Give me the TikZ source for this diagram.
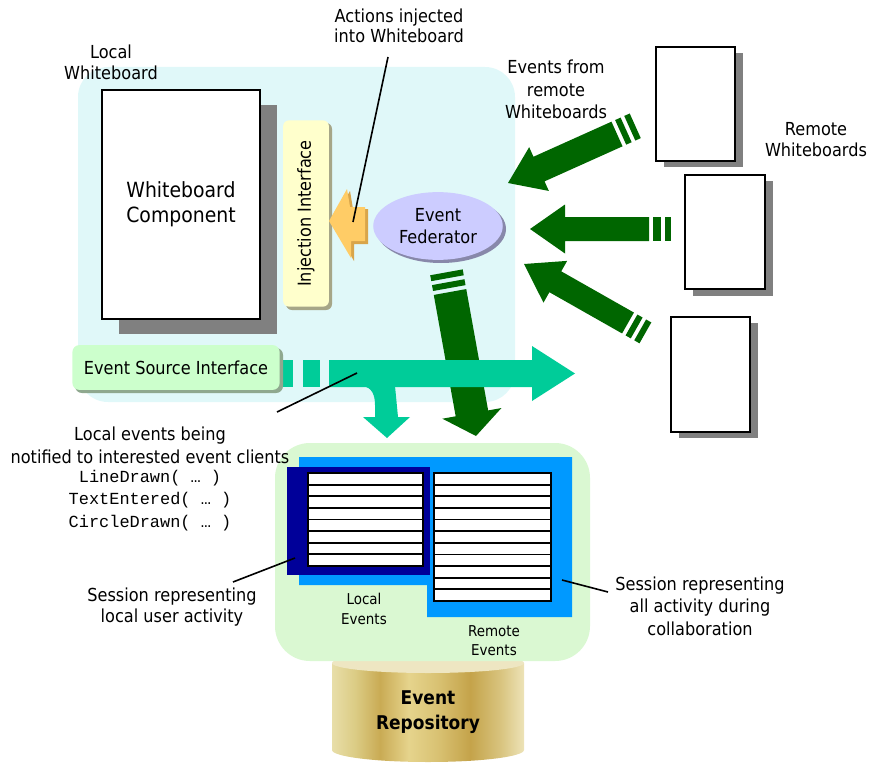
\documentclass[tikz,border=0pt]{standalone}
\usepackage{fontspec}
\setmainfont{DejaVu Sans}[FakeStretch=0.9]
\newfontfamily\codefont{Liberation Mono}
\usetikzlibrary{shapes.geometric}

\definecolor{localbg}{HTML}{E0F8F9}
\definecolor{sessbg}{HTML}{DAF8D2}
\definecolor{evteal}{HTML}{00CC99}
\definecolor{evgreen}{HTML}{006600}
\definecolor{sessblue}{HTML}{0099FF}
\definecolor{sessnavy}{HTML}{000099}
\definecolor{fedfill}{HTML}{CCCCFF}
\definecolor{fedshade}{HTML}{8888AA}
\definecolor{injfill}{HTML}{FFFFCC}
\definecolor{injshade}{HTML}{A6A688}
\definecolor{srcfill}{HTML}{CCFFCC}
\definecolor{srcshade}{HTML}{8FA88F}
\definecolor{boxshade}{HTML}{808080}
\definecolor{arrorange}{HTML}{FFCC66}
\definecolor{arrorangedk}{HTML}{D9A54A}
\definecolor{repotop}{HTML}{EEE6C2}

% gold banding of the repository drum (path box maps to 25bp..75bp)
\pgfdeclarehorizontalshading{repobody}{100bp}{%
  rgb(0bp)=(0.91,0.87,0.66);
  rgb(25bp)=(0.91,0.87,0.66);
  rgb(31bp)=(0.86,0.80,0.52);
  rgb(37.5bp)=(0.79,0.67,0.33);
  rgb(45bp)=(0.90,0.83,0.55);
  rgb(52.5bp)=(0.85,0.76,0.45);
  rgb(61bp)=(0.77,0.64,0.29);
  rgb(69bp)=(0.85,0.77,0.50);
  rgb(75bp)=(0.93,0.89,0.72);
  rgb(100bp)=(0.93,0.89,0.72)}

% block arrow: tail centre (#1,#2), tip (#3,#4), shaft width #5,
% head width #6, head length #7, fill #8
\newcommand{\blockarrow}[8]{%
  \pgfmathsetmacro{\baUx}{(#3-(#1))/veclen(#3-(#1),#4-(#2))}%
  \pgfmathsetmacro{\baUy}{(#4-(#2))/veclen(#3-(#1),#4-(#2))}%
  \pgfmathsetmacro{\baBx}{#3-#7*(\baUx)}%
  \pgfmathsetmacro{\baBy}{#4-#7*(\baUy)}%
  \pgfmathsetmacro{\baS}{#5/2}%
  \pgfmathsetmacro{\baH}{#6/2}%
  \fill[#8] ({#1-\baS*(\baUy)},{#2+\baS*(\baUx)})
    -- ({\baBx-\baS*(\baUy)},{\baBy+\baS*(\baUx)})
    -- ({\baBx-\baH*(\baUy)},{\baBy+\baH*(\baUx)})
    -- (#3,#4)
    -- ({\baBx+\baH*(\baUy)},{\baBy-\baH*(\baUx)})
    -- ({\baBx+\baS*(\baUy)},{\baBy-\baS*(\baUx)})
    -- ({#1+\baS*(\baUy)},{#2-\baS*(\baUx)}) -- cycle;}

% stripe behind the tail of the same arrow, from distance #5 to #6, width #7
\newcommand{\arrowstripe}[8]{%
  \pgfmathsetmacro{\baUx}{(#3-(#1))/veclen(#3-(#1),#4-(#2))}%
  \pgfmathsetmacro{\baUy}{(#4-(#2))/veclen(#3-(#1),#4-(#2))}%
  \pgfmathsetmacro{\baAx}{#1-#5*(\baUx)}%
  \pgfmathsetmacro{\baAy}{#2-#5*(\baUy)}%
  \pgfmathsetmacro{\baCx}{#1-#6*(\baUx)}%
  \pgfmathsetmacro{\baCy}{#2-#6*(\baUy)}%
  \pgfmathsetmacro{\baS}{#7/2}%
  \fill[#8] ({\baAx-\baS*(\baUy)},{\baAy+\baS*(\baUx)})
    -- ({\baCx-\baS*(\baUy)},{\baCy+\baS*(\baUx)})
    -- ({\baCx+\baS*(\baUy)},{\baCy-\baS*(\baUx)})
    -- ({\baAx+\baS*(\baUy)},{\baAy-\baS*(\baUx)}) -- cycle;}

\begin{document}
\begin{tikzpicture}[x=1bp,y=-1bp,
  txt/.style={align=center,inner sep=0pt,font=\fontsize{18}{22}\selectfont},
  callout/.style={line width=1.6bp,black},
  paper/.style={draw=black,line width=2bp,fill=white,inner sep=0pt},
  tab/.style={draw=black,line width=2bp,fill=white,inner sep=0pt},
  rowline/.style={line width=1.8bp,black}]
\useasboundingbox (0,0) rectangle (871,763);

% local whiteboard area
\fill[localbg,rounded corners=30] (78,67) rectangle (515,402);
\node[txt,font=\fontsize{18}{21}\selectfont] (lwb) at (111,62.5) {Local\\Whiteboard};

% event repository drum
\shade[shading=repobody] (332,663) -- (332,750)
  arc[start angle=180,end angle=0,x radius=96,y radius=12] -- (524,663) -- cycle;
\fill[repotop] (428,663) ellipse[x radius=96,y radius=10];
\node[txt,font=\bfseries\fontsize{19}{25}\selectfont] (repo) at (428,712.5) {Event\\Repository};

% session area
\fill[sessbg,rounded corners=35] (275,443) rectangle (590,661);

% whiteboard component
\fill[boxshade] (119,105) rectangle (277,334);
\node[paper,minimum width=158,minimum height=229,align=center,
  font=\fontsize{21}{25}\selectfont] (wbc) at (181,204.5) {Whiteboard\\Component};

% injection interface
\fill[injshade,rounded corners=6] (286,123) rectangle (332,310);
\node[fill=injfill,rounded corners=6,minimum width=187,minimum height=46,
  inner sep=0pt,rotate=90,font=\fontsize{18}{22}\selectfont] (inj) at (306,213.5) {Injection Interface};

% injection arrow
\fill[arrorangedk] (332,223) -- (350,191) -- (353,209) -- (368,209)
  -- (368,244) -- (354,244) -- (354,261) -- cycle;
\fill[arrorange] (329,221) -- (347,189) -- (350,207) -- (365,207)
  -- (365,241) -- (351,241) -- (351,258) -- cycle;

% event federator
\fill[fedshade] (441,229) ellipse[x radius=65,y radius=34];
\node[ellipse,fill=fedfill,minimum width=130,minimum height=68,inner sep=0pt,
  align=center,font=\fontsize{18}{22}\selectfont] (fed) at (438,226) {Event\\Federator};

% remote whiteboards
\fill[boxshade] (664,53) rectangle (743,167);
\node[paper,minimum width=79,minimum height=114] (r1) at (695.5,104) {};
\fill[boxshade] (693,181) rectangle (773,296);
\node[paper,minimum width=80,minimum height=114] (r2) at (725,232) {};
\fill[boxshade] (679,323) rectangle (758,438);
\node[paper,minimum width=79,minimum height=115] (r3) at (710.5,374.5) {};
\node[txt,font=\fontsize{18}{21}\selectfont] (remwb) at (816,139.5) {Remote\\Whiteboards};
\node[txt,font=\fontsize{18}{22.5}\selectfont] (remtxt) at (556,89.5) {Events from\\remote\\Whiteboards};

% incoming remote event arrows
\blockarrow{617}{134}{508}{183}{27}{48}{34}{evgreen}
\arrowstripe{617}{134}{508}{183}{4}{10}{27}{evgreen}
\arrowstripe{617}{134}{508}{183}{14}{20}{27}{evgreen}
\blockarrow{649}{229}{530}{229}{24}{49}{35}{evgreen}
\arrowstripe{649}{229}{530}{229}{4}{12}{24}{evgreen}
\arrowstripe{649}{229}{530}{229}{16}{22}{24}{evgreen}
\blockarrow{628}{323}{524}{264}{24}{48}{36}{evgreen}
\arrowstripe{628}{323}{524}{264}{4}{10}{24}{evgreen}
\arrowstripe{628}{323}{524}{264}{14}{20}{24}{evgreen}

% federated events into the repository
\blockarrow{450}{292}{476}{436}{33}{60}{23}{evgreen}
\arrowstripe{450}{292}{476}{436}{4}{10}{33}{evgreen}
\arrowstripe{450}{292}{476}{436}{14}{20}{33}{evgreen}

% local events leaving the event source interface
\fill[evteal] (283,360) rectangle (293,387);
\fill[evteal] (303,360) rectangle (320,387);
\blockarrow{329}{373.5}{575}{373.5}{27}{55}{43}{evteal}
\fill[evteal] (362,386) .. controls (372,387) and (375,395) .. (375,405)
  -- (375,417) -- (363,417) -- (387,438) -- (410,417) -- (398,417) -- (395,386) -- cycle;

% event source interface
\fill[srcshade,rounded corners=7] (75,348) rectangle (283,393);
\node[fill=srcfill,rounded corners=7,minimum width=208,minimum height=45,inner sep=0pt,
  font=\fontsize{18}{22}\selectfont] (esi) at (176,367.5) {Event Source Interface};

% sessions
\fill[sessblue] (299,457) -- (572,457) -- (572,617) -- (427,617) -- (427,585)
  -- (299,585) -- cycle;
\fill[sessnavy] (287,467) rectangle (430,575);
\node[tab,minimum width=115,minimum height=93] (loctab) at (365.5,519.5) {};
\foreach \i in {1,...,7}
  \draw[rowline] (308,{473+\i*93/8}) -- (423,{473+\i*93/8});
\node[tab,minimum width=117,minimum height=128] (remtab) at (492.5,537) {};
\foreach \i in {1,...,10}
  \draw[rowline] (434,{473+\i*128/11}) -- (551,{473+\i*128/11});
\node[txt,font=\fontsize{15}{20}\selectfont] (loclbl) at (364,609) {Local\\Events};
\node[txt,font=\fontsize{15}{19}\selectfont] (remlbl) at (494,641) {Remote\\Events};

% callouts
\node[txt,font=\fontsize{18}{20}\selectfont] (acttxt) at (399,26) {Actions injected\\into Whiteboard};
\coordinate (actA) at (388,57);
\coordinate (actB) at (353,222);
\draw[callout] (actA) -- (actB);

\node[txt,font=\fontsize{18}{23}\selectfont] (levt) at (150,445.5)
  {Local events being\\notified to interested event clients};
\node[txt,font=\codefont\fontsize{17}{22.5}\selectfont] (calls) at (150,500.5)
  {LineDrawn( … )\\TextEntered( … )\\CircleDrawn( … )};
\coordinate (levA) at (357,373);
\coordinate (levB) at (277,412);
\draw[callout] (levA) -- (levB);

\node[txt,font=\fontsize{18}{20.6}\selectfont] (sessl) at (172,607)
  {Session representing\\local user activity};
\coordinate (seslA) at (295,558);
\coordinate (seslB) at (233,582);
\draw[callout] (seslA) -- (seslB);

\node[txt,font=\fontsize{18}{22.5}\selectfont] (sessa) at (700,606)
  {Session representing\\all activity during\\collaboration};
\coordinate (sesaA) at (562,580);
\coordinate (sesaB) at (608,592);
\draw[callout] (sesaA) -- (sesaB);
\end{tikzpicture}
\end{document}
